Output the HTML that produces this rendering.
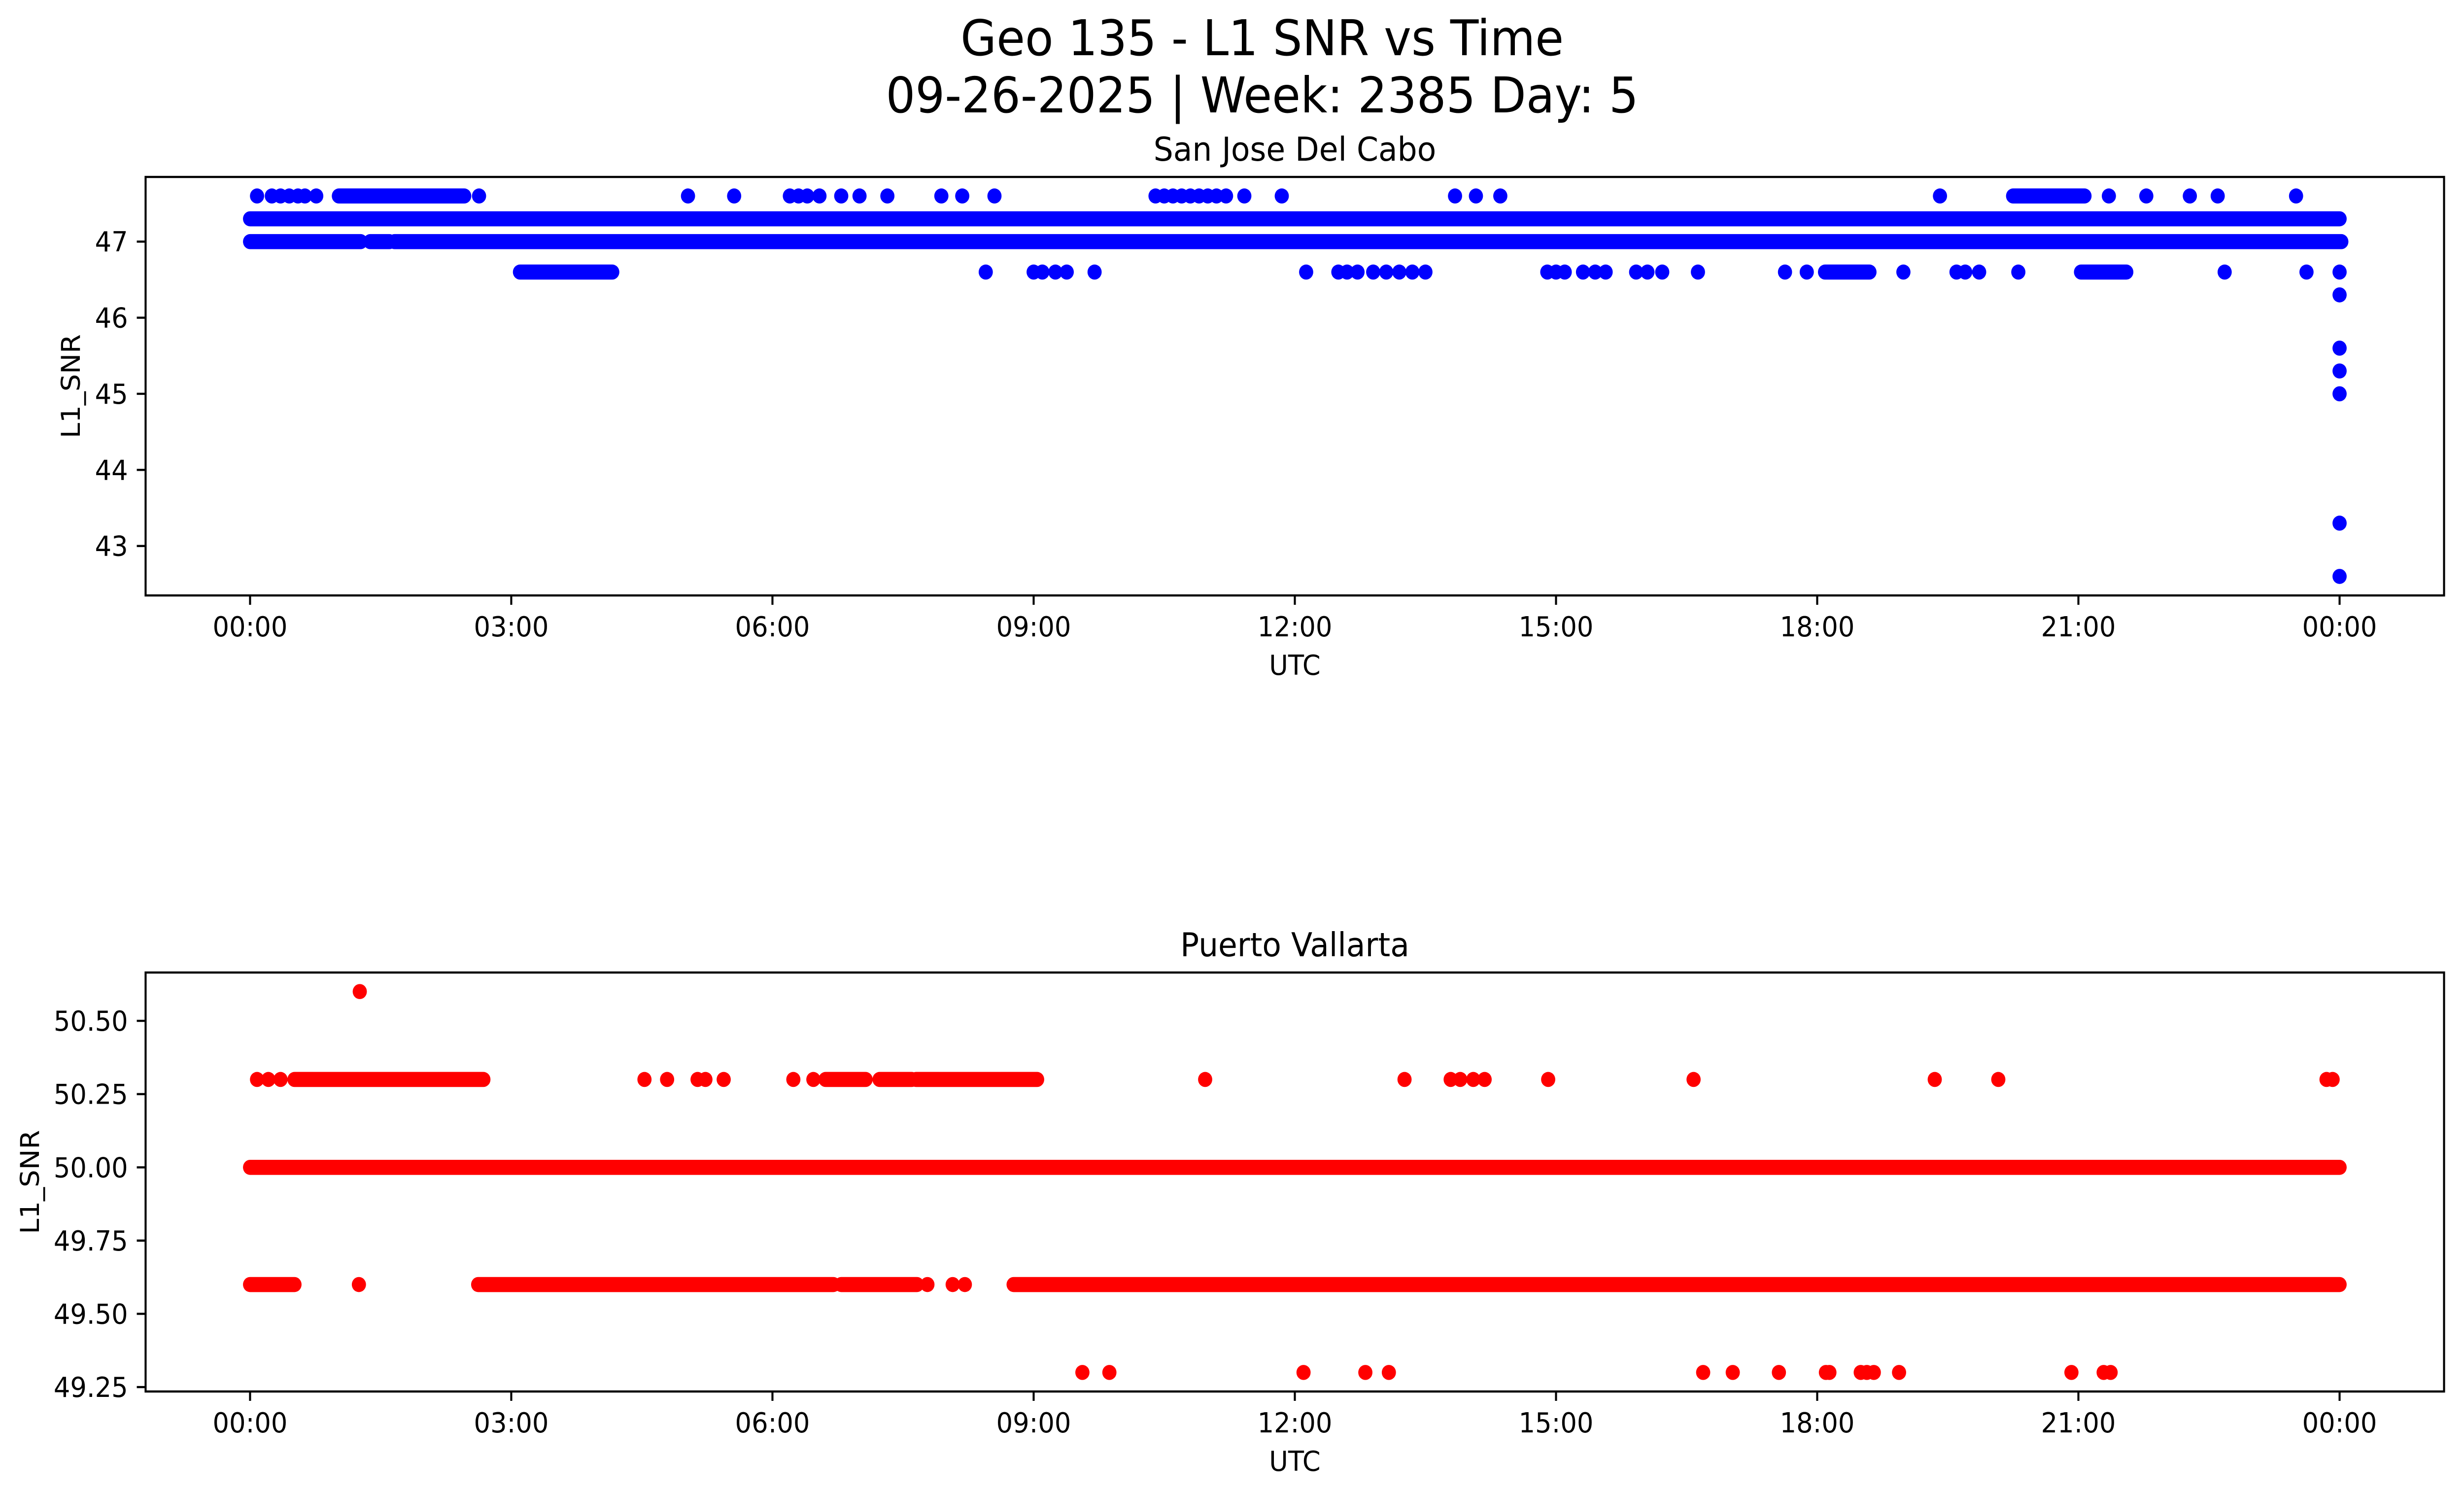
<!DOCTYPE html>
<html><head><meta charset="utf-8">
<meta name="viewport" content="width=5314, initial-scale=1">
<style>
html,body{margin:0;padding:0;background:#fff;overflow:hidden;width:100%;height:100%;}
svg{display:block;width:100vw;height:100vh;}
text{font-family:"DejaVu Sans","Liberation Sans",sans-serif;fill:#000;}
</style></head>
<body>
<svg id="fig" viewBox="0 0 5314 3033" preserveAspectRatio="none" xmlns="http://www.w3.org/2000/svg">
<rect width="5314" height="3033" fill="#fff"/>
<text x="2722" y="112" font-size="100" text-anchor="middle">Geo 135 - L1 SNR vs Time</text>
<text x="2722" y="228" font-size="100" text-anchor="middle">09-26-2025 | Week: 2385 Day: 5</text>
<g id="top"></g>
<g id="bot"></g>
</svg>
<script>
// ---- Data (hours UTC, SNR) ----
const xTickHours = [0,3,6,9,12,15,18,21,24];
const xTickLabels = ["00:00","03:00","06:00","09:00","12:00","15:00","18:00","21:00","00:00"];
// San Jose Del Cabo
const sjTicks = [43,44,45,46,47];
const sjSegStart = [0, 0, 1.38, 1.66, 1.02, 20.25, 3.1, 18.09, 21.03];
const sjSegEnd   = [24.0, 1.27, 1.6, 24.02, 2.46, 21.07, 4.16, 18.6, 21.55];
const sjSegVal   = [47.3, 47.0, 47.0, 47.0, 47.6, 47.6, 46.6, 46.6, 46.6];
const sjPtTime = [0.08,0.25,0.35,0.45,0.55,0.63,0.76,2.63,5.03,5.56,6.2,6.3,6.4,6.54,6.79,7.0,7.32,7.94,8.18,8.55,10.4,10.5,10.6,10.7,10.8,10.9,11.0,11.1,11.21,11.42,11.85,13.84,14.08,14.36,19.41,21.35,21.78,22.28,22.6,23.5,
  8.45,9.0,9.1,9.25,9.38,9.7,12.13,12.5,12.6,12.72,12.9,13.05,13.2,13.35,13.5,14.9,15.0,15.1,15.31,15.45,15.57,15.92,16.05,16.22,16.63,17.63,17.88,18.99,19.6,19.7,19.86,20.31,22.68,23.62,24.0,
  24.0,24.0,24.0,24.0,24.0,24.0];
const sjPtVal = [47.6,47.6,47.6,47.6,47.6,47.6,47.6,47.6,47.6,47.6,47.6,47.6,47.6,47.6,47.6,47.6,47.6,47.6,47.6,47.6,47.6,47.6,47.6,47.6,47.6,47.6,47.6,47.6,47.6,47.6,47.6,47.6,47.6,47.6,47.6,47.6,47.6,47.6,47.6,47.6,
  46.6,46.6,46.6,46.6,46.6,46.6,46.6,46.6,46.6,46.6,46.6,46.6,46.6,46.6,46.6,46.6,46.6,46.6,46.6,46.6,46.6,46.6,46.6,46.6,46.6,46.6,46.6,46.6,46.6,46.6,46.6,46.6,46.6,46.6,46.6,
  46.3,45.6,45.3,45.0,43.3,42.6];
// Puerto Vallarta
const pvTicks = [49.25,49.5,49.75,50.0,50.25,50.5];
const pvTickLabels = ["49.25","49.50","49.75","50.00","50.25","50.50"];
const pvSegStart = [0, 0.51, 6.61, 7.23, 7.65, 0, 2.62, 6.79, 8.77];
const pvSegEnd   = [24.0, 2.68, 7.07, 7.6, 9.04, 0.51, 6.7, 7.66, 24.0];
const pvSegVal   = [50.0, 50.3, 50.3, 50.3, 50.3, 49.6, 49.6, 49.6, 49.6];
const pvPtTime = [0.08,0.21,0.35,4.53,4.79,5.14,5.23,5.44,6.24,6.47,10.97,13.26,13.79,13.9,14.05,14.18,14.91,16.58,19.35,20.08,23.85,23.92,
  1.26,
  1.25,7.78,8.07,8.21,
  9.56,9.87,12.1,12.81,13.08,16.69,17.03,17.56,18.1,18.14,18.5,18.57,18.65,18.94,20.92,21.29,21.37];
const pvPtVal = [50.3,50.3,50.3,50.3,50.3,50.3,50.3,50.3,50.3,50.3,50.3,50.3,50.3,50.3,50.3,50.3,50.3,50.3,50.3,50.3,50.3,50.3,
  50.6,
  49.6,49.6,49.6,49.6,
  49.3,49.3,49.3,49.3,49.3,49.3,49.3,49.3,49.3,49.3,49.3,49.3,49.3,49.3,49.3,49.3,49.3];

const NS="http://www.w3.org/2000/svg";
const R=15.3;
function mk(tag,attrs,parent){const e=document.createElementNS(NS,tag);for(const k in attrs)e.setAttribute(k,attrs[k]);parent.appendChild(e);return e;}

function panel(g, cfg){
  const L=314,Rt=5271,T=cfg.top,B=cfg.bottom;
  const xs=h=>L+(h+1.2)/26.4*(Rt-L);
  const ys=v=>B-(v-cfg.ymin)/(cfg.ymax-cfg.ymin)*(B-T);
  const t=mk('text',{x:(L+Rt)/2,y:T-33,'font-size':67,'text-anchor':'middle'},g);
  t.textContent=cfg.title;
  
  
  for(let i=0;i<cfg.segS.length;i++){
    const l=mk('line',{x1:xs(cfg.segS[i]),x2:xs(cfg.segE[i]),y1:ys(cfg.segV[i]),y2:ys(cfg.segV[i]),stroke:cfg.color,'stroke-width':2*R,'stroke-linecap':'round'},g);
    
    
  }
  for(let i=0;i<cfg.pt.length;i++){
    const c=mk('circle',{cx:xs(cfg.pt[i]),cy:ys(cfg.pv[i]),r:R,fill:cfg.color},g);
    
    
  }
  const f=mk('rect',{x:L,y:T,width:Rt-L,height:B-T,fill:'none',stroke:'#000','stroke-width':4.4},g);
  
  
  for(let i=0;i<xTickHours.length;i++){
    const x=xs(xTickHours[i]);
    const tk=mk('line',{x1:x,x2:x,y1:B,y2:B+19,stroke:'#000','stroke-width':4.4},g);
    
    
    const tl=mk('text',{x:x,y:B+83,'font-size':56,'text-anchor':'middle'},g);
    tl.textContent=xTickLabels[i];
    
    
  }
  for(let i=0;i<cfg.yt.length;i++){
    const y=ys(cfg.yt[i]);
    const tk=mk('line',{x1:L-19,x2:L,y1:y,y2:y,stroke:'#000','stroke-width':4.4},g);
    
    
    const tl=mk('text',{x:L-38,y:y+20,'font-size':56,'text-anchor':'end'},g);
    tl.textContent=cfg.ytl[i];
    
    
  }
  const xl=mk('text',{x:(L+Rt)/2,y:B+161,'font-size':56,'text-anchor':'middle'},g);
  xl.textContent='UTC';
  
  
  const yc=(T+B)/2;
  const yl=mk('text',{x:cfg.ylx,y:yc,'font-size':56,'text-anchor':'middle',transform:`rotate(-90 ${cfg.ylx} ${yc})`},g);
  yl.textContent='L1_SNR';
  
  
}

panel(document.getElementById('top'),{key:'san-jose',title:'San Jose Del Cabo',top:359,bottom:1208,ymin:42.35,ymax:47.85,color:'#0000ff',
  segS:sjSegStart,segE:sjSegEnd,segV:sjSegVal,pt:sjPtTime,pv:sjPtVal,yt:sjTicks,ytl:sjTicks.map(String),ylx:172});
panel(document.getElementById('bot'),{key:'puerto-vallarta',title:'Puerto Vallarta',top:1973,bottom:2823,ymin:49.235,ymax:50.665,color:'#ff0000',
  segS:pvSegStart,segE:pvSegEnd,segV:pvSegVal,pt:pvPtTime,pv:pvPtVal,yt:pvTicks,ytl:pvTickLabels,ylx:84});
</script>
</body></html>
